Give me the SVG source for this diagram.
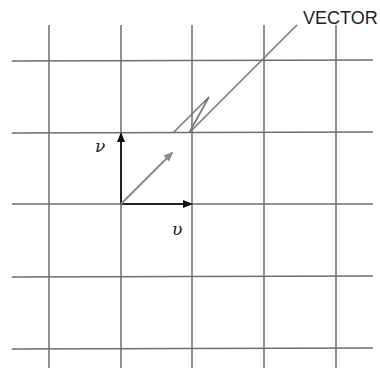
<svg xmlns="http://www.w3.org/2000/svg" width="380" height="368" viewBox="0 0 380 368">
<style>
.grid{stroke:#6e6e6e;stroke-width:1.5;fill:none}
.axis{stroke:#222;stroke-width:2;fill:none}
.vec{stroke:#8a8a8a;stroke-width:2;fill:none}
.lead{stroke:#777;stroke-width:1.6;fill:none}
.lbl{font-family:"DejaVu Serif","Liberation Serif",serif;font-style:italic;font-size:17px;fill:#222}
.title{font-family:"Liberation Sans",Arial,sans-serif;font-size:18px;fill:#222}
</style>
<defs>
<marker id="ah" markerWidth="10" markerHeight="10" refX="8" refY="5" orient="auto" markerUnits="userSpaceOnUse"><path d="M0,1 L10,5 L0,9 Z" fill="#111"/></marker>
<marker id="ahg" markerWidth="10" markerHeight="10" refX="8" refY="5" orient="auto" markerUnits="userSpaceOnUse"><path d="M0,1 L10,5 L0,9 Z" fill="#8a8a8a"/></marker>
</defs>
<rect width="380" height="368" fill="#fff"/>
<g id="grid">
<line class="grid" x1="49" y1="25" x2="49" y2="368"/>
<line class="grid" x1="121" y1="25" x2="121" y2="368"/>
<line class="grid" x1="192" y1="25" x2="192" y2="368"/>
<line class="grid" x1="264" y1="25" x2="264" y2="368"/>
<line class="grid" x1="336" y1="25" x2="336" y2="368"/>
<line class="grid" x1="12" y1="61" x2="373" y2="60"/>
<line class="grid" x1="12" y1="133" x2="373" y2="132"/>
<line class="grid" x1="12" y1="204" x2="373" y2="204"/>
<line class="grid" x1="12" y1="277" x2="373" y2="276"/>
<line class="grid" x1="12" y1="349" x2="373" y2="348"/>
</g>
<g id="connectors">
<line class="axis" x1="121" y1="204" x2="191" y2="204" marker-end="url(#ah)"/>
<line class="axis" x1="121" y1="204" x2="121" y2="134" marker-end="url(#ah)"/>
<line class="vec" x1="121" y1="204" x2="172" y2="153" marker-end="url(#ahg)"/>
<polyline class="lead" points="173,133 209,97 189,133 297,25"/>
</g>
<g id="labels">
<text class="lbl" x="95" y="152">ν</text>
<text class="lbl" x="172" y="235">υ</text>
<text class="title" x="303" y="24">VECTOR</text>
</g>
</svg>
